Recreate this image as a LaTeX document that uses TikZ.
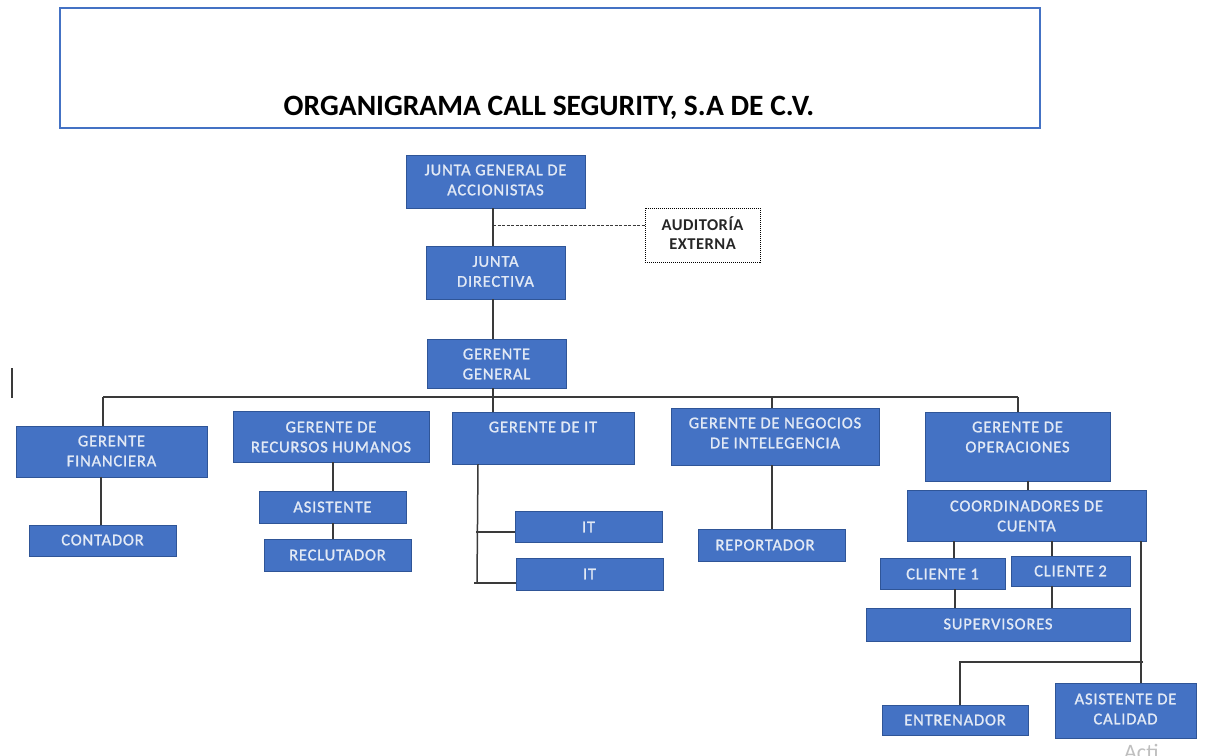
\documentclass[tikz,border=0pt]{standalone}
\usepackage{fontspec}
\setmainfont{Carlito}
\newfontfamily\boxfont[LetterSpace=5,FakeBold=1.2]{Carlito}
\newfontfamily\audfont[LetterSpace=3]{Carlito}
\usetikzlibrary{positioning}
\definecolor{boxfill}{HTML}{4472C4}
\definecolor{boxline}{HTML}{2F5597}
\definecolor{boxtext}{HTML}{E2E9F5}
\definecolor{conn}{HTML}{3A3A3A}
\definecolor{titleline}{HTML}{4472C4}
\tikzset{
  orgb/.style={draw=boxline, fill=boxfill, line width=1pt, inner sep=0pt, outer sep=0pt},
  orgt/.style={text=boxtext, font=\boxfont\fontsize{16.5}{20}\selectfont, align=center, inner sep=0pt},
  audb/.style={draw=black, densely dotted, line width=1pt, fill=white, inner sep=0pt},
  audt/.style={text=black!85, font=\audfont\bfseries\fontsize{16.5}{19}\selectfont, align=center, inner sep=0pt},
  conline/.style={draw=conn, line width=1.5pt},
  dashline/.style={draw=conn, line width=1pt, dashed, dash pattern=on 3pt off 1.5pt},
}
% \orgbox{name}{x1}{y1}{x2}{y2}{text y}{text x}{text}
\newcommand\orgbox[8]{%
  \node[orgb, minimum width={(#4)-(#2)}, minimum height={(#5)-(#3)}] (#1) at ({((#2)+(#4))/2},{((#3)+(#5))/2}) {};
  \node[orgt] (#1-t) at (#7,#6) {#8};
}
\begin{document}
\begin{tikzpicture}[x=1pt,y=-1pt]
\useasboundingbox (0,0) rectangle (1206,755);
\fill[white] (0,0) rectangle (1206,755);

% title
\node[draw=titleline, line width=2pt, minimum width=980, minimum height=120, inner sep=0pt] (title) at (550,68) {};
\node[font=\bfseries\fontsize{29.5}{33}\selectfont, inner sep=0pt] (title-t) at (549,108) {ORGANIGRAMA CALL SEGURITY, S.A DE C.V.};

% stray mark
\coordinate (m1) at (12,368);
\coordinate (m2) at (12,398);
\draw[draw=conn, line width=2pt] (m1) -- (m2);

% boxes
\orgbox{jga}{406}{155}{585}{208}{180}{495.5}{JUNTA GENERAL DE\\ACCIONISTAS}
\orgbox{jd}{426}{246}{565}{299}{271.5}{495.5}{JUNTA\\DIRECTIVA}
\orgbox{gg}{427}{339}{566}{388}{364}{496.5}{GERENTE\\GENERAL}
\orgbox{gf}{16}{426}{207}{477}{451}{111.5}{GERENTE\\FINANCIERA}
\orgbox{cont}{29}{525}{176}{556}{540}{102.5}{CONTADOR}
\orgbox{rh}{233}{411}{429}{462}{437}{331}{GERENTE DE\\RECURSOS HUMANOS}
\orgbox{asis}{259}{491}{406}{523}{507}{332.5}{ASISTENTE}
\orgbox{recl}{264}{539}{411}{571}{555}{337.5}{RECLUTADOR}
\orgbox{git}{452}{412}{634}{464}{427}{543}{GERENTE DE IT}
\orgbox{ita}{515}{511}{662}{542}{527}{588.5}{IT}
\orgbox{itb}{516}{558}{663}{590}{574}{589.5}{IT}
\orgbox{gn}{671}{408}{879}{465}{433}{775}{GERENTE DE NEGOCIOS\\DE INTELEGENCIA}
\orgbox{rep}{698}{529}{845}{561}{545}{765}{REPORTADOR}
\orgbox{go}{925}{412}{1110}{481}{437}{1017.5}{GERENTE DE\\OPERACIONES}
\orgbox{coord}{907}{490}{1146}{541}{516}{1026.5}{COORDINADORES DE\\CUENTA}
\orgbox{cl1}{880}{558}{1005}{589}{574}{942.5}{CLIENTE 1}
\orgbox{cl2}{1011}{556}{1130}{586}{571}{1070.5}{CLIENTE 2}
\orgbox{sup}{866}{608}{1130}{641}{624}{998}{SUPERVISORES}
\orgbox{ent}{882}{705}{1028}{735}{720}{955}{ENTRENADOR}
\orgbox{ac}{1055}{683}{1196}{738}{709}{1125.5}{ASISTENTE DE\\CALIDAD}

% auditoria
\node[audb, minimum width=115, minimum height=54] (aud) at (702.5,235) {};
\node[audt] (aud-t) at (702.5,233) {AUDITORÍA\\EXTERNA};

% connectors top
\draw[conline] (jga.south -| 493,0) -- (jd.north -| 493,0);
\draw[conline] (jd.south -| 493,0) -- (gg.north -| 493,0);
\coordinate (dj) at (493,225);
\draw[dashline] (dj) -- (aud.west |- dj);

% bus
\coordinate (busL) at (103,397);
\coordinate (busR) at (1018,397);
\draw[conline] (gg.south -| 493,0) -- (git.north -| 493,0);
\draw[conline] (busL) -- (busR);
\draw[conline] (busL) -- (gf.north -| busL);
\draw[conline] (busR) -- (go.north -| busR);
\draw[conline] (gn.north -| 772,0) -- (772,397);

% financiera
\draw[conline] (gf.south -| 101,0) -- (cont.north -| 101,0);
% rrhh
\draw[conline] (rh.south -| 333,0) -- (asis.north -| 333,0);
\draw[conline] (asis.south -| 333,0) -- (recl.north -| 333,0);
% it
\coordinate (itc1) at (476,532);
\coordinate (itc2) at (474,583);
\draw[conline] (git.south -| 478,0) -- (477,583);
\draw[conline] (itc1) -- (ita.west |- itc1);
\draw[conline] (itc2) -- (itb.west |- itc2);
% negocios
\draw[conline] (gn.south -| 772,0) -- (rep.north -| 772,0);
% operaciones
\draw[conline] (go.south -| 1028,0) -- (coord.north -| 1028,0);
\draw[conline] (coord.south -| 954,0) -- (cl1.north -| 954,0);
\draw[conline] (coord.south -| 1052,0) -- (cl2.north -| 1052,0);
\draw[conline] (cl1.south -| 955,0) -- (sup.north -| 955,0);
\draw[conline] (cl2.south -| 1052,0) -- (sup.north -| 1052,0);
\draw[conline] (coord.south -| 1141,0) -- (ac.north -| 1141,0);
\coordinate (eh) at (1143,662);
\draw[conline] (eh) -- (960,662) -- (ent.north -| 960,0);

% watermark
\begin{scope}
\clip (0,0) rectangle (1206,755);
\node[text=black!25, font=\fontsize{22}{26}\selectfont, anchor=north west, inner sep=0pt] (wm) at (1124,744) {Acti};
\end{scope}
\end{tikzpicture}
\end{document}
